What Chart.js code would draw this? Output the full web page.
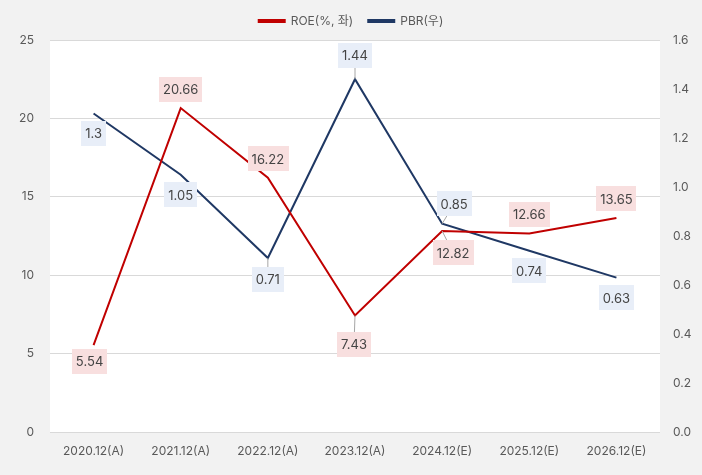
<!DOCTYPE html>
<html>
<head>
<meta charset="utf-8">
<script src="https://cdn.jsdelivr.net/npm/chart.js@4.4.1/dist/chart.umd.min.js"></script>
<style>
html,body{margin:0;padding:0;background:#f2f2f2;}
#wrap{width:702px;height:475px;position:relative;}
</style>
</head>
<body>
<div id="wrap"><canvas id="c" width="702" height="475"></canvas></div>
<script>
const categories = ['2020.12(A)','2021.12(A)','2022.12(A)','2023.12(A)','2024.12(E)','2025.12(E)','2026.12(E)'];
const roeValues = [5.54, 20.66, 16.22, 7.43, 12.82, 12.66, 13.65];
const pbrValues = [1.3, 1.05, 0.71, 1.44, 0.85, 0.74, 0.63];
const roeLabel = 'ROE(%, 좌)';
const pbrLabel = 'PBR(우)';

// label placement (offset of label centre from point, and whether a leader line is drawn)
const roeLabelOffsets = [[-4,16,false],[0,-19,false],[0,-19,false],[-1,29,true],[11,22,true],[0,-19,false],[0,-19,false]];
const pbrLabelOffsets = [[0,20,false],[0,20,false],[0,21,true],[0,-24,true],[12,-20,true],[0,20,false],[0,20,false]];

const FONT = "Inter, 'Noto Sans CJK KR', sans-serif";

const bgPlugin = {
  id: 'bg',
  beforeUpdate(chart) {
    const lg = chart.legend;
    if (lg && !lg._patched) {
      const f = lg.fit;
      lg.fit = function () { f.call(this); this.height += 3; };
      lg._patched = true;
    }
  },
  beforeDraw(chart) {
    const {ctx, chartArea: a} = chart;
    ctx.save();
    ctx.fillStyle = '#f2f2f2';
    ctx.fillRect(0, 0, chart.width, chart.height);
    ctx.fillStyle = '#ffffff';
    ctx.fillRect(a.left, a.top, a.right - a.left, a.bottom - a.top);
    ctx.restore();
  }
};

const labelPlugin = {
  id: 'boxLabels',
  afterDatasetsDraw(chart) {
    const ctx = chart.ctx;
    const cfg = [
      {offsets: roeLabelOffsets, bg: '#f8dfdf', fmt: v => String(v)},
      {offsets: pbrLabelOffsets, bg: '#e8eef8', fmt: v => String(v)}
    ];
    ctx.save();
    ctx.font = "13px " + FONT;
    ctx.textAlign = 'center';
    ctx.textBaseline = 'middle';
    chart.data.datasets.forEach((ds, di) => {
      const meta = chart.getDatasetMeta(di);
      meta.data.forEach((pt, i) => {
        const [dx, dy, leader] = cfg[di].offsets[i];
        const txt = cfg[di].fmt(ds.data[i]);
        const cx = pt.x + dx, cy = pt.y + dy;
        const w = ctx.measureText(txt).width + 8;
        const h = 25;
        if (leader) {
          ctx.strokeStyle = '#a6a6a6';
          ctx.lineWidth = 1;
          ctx.beginPath();
          ctx.moveTo(pt.x, pt.y);
          ctx.lineTo(cx, cy);
          ctx.stroke();
        }
        ctx.fillStyle = cfg[di].bg;
        ctx.fillRect(Math.round(cx - w / 2), Math.round(cy - h / 2), Math.round(w), h);
        ctx.fillStyle = '#444444';
        ctx.fillText(txt, cx, cy + 1);
      });
    });
    ctx.restore();
  }
};

new Chart(document.getElementById('c'), {
  type: 'line',
  data: {
    labels: categories,
    datasets: [
      {label: roeLabel, data: roeValues, yAxisID: 'y', borderColor: '#c00000', backgroundColor: '#c00000', borderWidth: 2, pointRadius: 0, tension: 0, fill: false},
      {label: pbrLabel, data: pbrValues, yAxisID: 'y1', borderColor: '#1f3864', backgroundColor: '#1f3864', borderWidth: 2, pointRadius: 0, tension: 0, fill: false}
    ]
  },
  options: {
    responsive: false,
    animation: false,
    layout: {padding: {top: 0, left: 0, right: 0, bottom: 0}},
    plugins: {
      legend: {
        position: 'top',
        labels: {boxWidth: 26, boxHeight: 2, font: {family: FONT, size: 12}, color: '#595959', padding: 15}
      },
      tooltip: {enabled: false}
    },
    scales: {
      x: {
        offset: true,
        grid: {display: false, drawTicks: false},
        border: {display: false},
        ticks: {font: {family: FONT, size: 12}, color: '#595959', padding: 12, maxRotation: 0},
        afterFit(s) { s.height = 43; }
      },
      y: {
        position: 'left', min: 0, max: 25,
        ticks: {stepSize: 5, font: {family: FONT, size: 12}, color: '#595959', padding: 16},
        grid: {color: '#d9d9d9', drawTicks: false},
        border: {display: false},
        afterFit(s) { s.width = 50; }
      },
      y1: {
        position: 'right', min: 0, max: 1.6,
        ticks: {stepSize: 0.2, font: {family: FONT, size: 12}, color: '#595959', padding: 13, callback: v => Number(v).toFixed(1)},
        grid: {display: false, drawTicks: false},
        border: {display: false},
        afterFit(s) { s.width = 42; }
      }
    }
  },
  plugins: [bgPlugin, labelPlugin]
});
</script>
</body>
</html>
